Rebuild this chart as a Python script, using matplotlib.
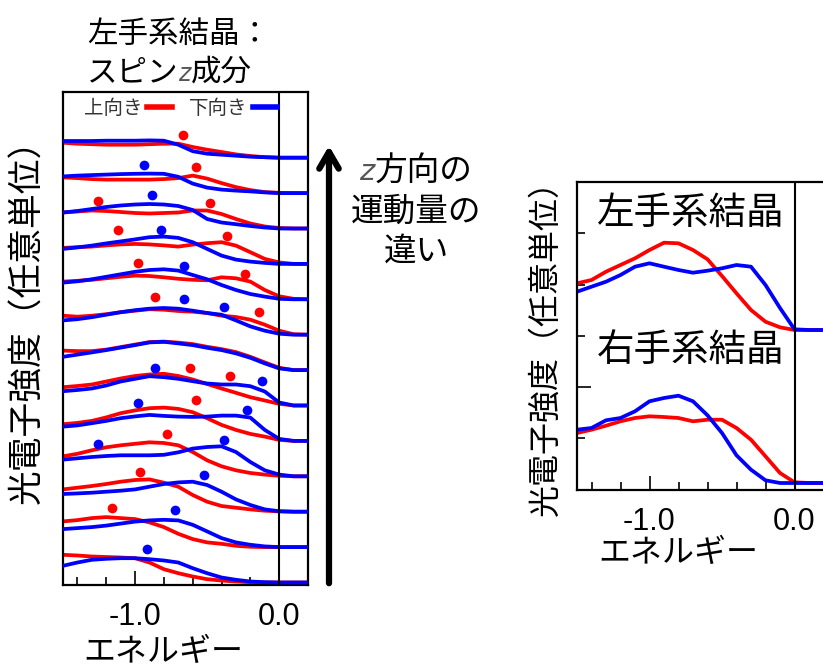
import matplotlib
matplotlib.use('Agg')
import matplotlib.pyplot as plt
from matplotlib.lines import Line2D
from matplotlib.patches import FancyArrowPatch
import numpy as np

plt.rcParams['font.family'] = ['Noto Sans CJK JP', 'DejaVu Sans']

# ---------------- data ----------------
energy = [-1.5, -1.4, -1.3, -1.2, -1.1, -1.0, -0.9, -0.8, -0.7, -0.6,
          -0.5, -0.4, -0.3, -0.2, -0.1, 0.0, 0.1, 0.2]

# left panel: 13 spectra, listed from top to bottom (arbitrary units)
spin_up = [
    [15, 14, 13.5, 13, 13, 13, 13.5, 14, 14, 10.7, 8, 5.7, 3.3, 1.7, 0.5, 0, 0, 0],
    [15.7, 15, 14, 13.5, 13.5, 13.5, 13.5, 14, 15, 17.5, 14.5, 10, 6, 3, 1, 0.3, 0, 0],
    [16, 17, 18, 17.5, 16.5, 15.5, 15, 15.5, 16, 18, 18, 14.5, 9.5, 5, 2, 0.5, 0, 0],
    [16, 16.7, 17.3, 18.5, 19.5, 20, 19.5, 18.5, 17.3, 19.3, 20.7, 21.7, 18.3, 11.7, 5, 1.5, 0, 0],
    [17.7, 18.5, 19.5, 21, 22.5, 23.7, 23.3, 22, 20.5, 19.5, 19, 22, 21, 17.7, 9.3, 3, 0.5, 0],
    [19, 18, 19, 20.5, 22.5, 24, 25.5, 25, 23.7, 23, 21.7, 19, 17.7, 15, 10, 4, 0.5, 0],
    [19.5, 19, 19, 20.5, 23, 25.5, 28, 28.5, 27.5, 26, 23.3, 21, 18, 13.3, 7.7, 2.3, 0, 0],
    [18.3, 19.5, 21, 24, 27, 29.5, 31, 31.7, 29.5, 26, 21.5, 17, 12.7, 8.3, 5, 1.7, 0, 0],
    [16.7, 18, 20, 23.5, 27.7, 30.5, 32.7, 33.3, 32, 28.7, 22.7, 16, 11, 7, 4.3, 1, 0, 0],
    [20, 22.5, 26, 29, 31, 32.5, 34, 33.3, 31, 24.3, 16, 10, 6, 3.3, 1.7, 0.5, 0, 0],
    [22.3, 24, 25.7, 27.7, 30, 31.7, 32.3, 29, 25, 16.7, 10, 5.7, 4, 2.3, 1, 0.3, 0, 0],
    [25.7, 27, 29, 30, 29, 28, 24.7, 20, 13.3, 8, 4.7, 3.3, 1.3, 0.3, 0, 0, 0, 0],
    [27.7, 27, 26, 25.5, 25, 24.3, 20, 13.3, 9.3, 6, 3.3, 2, 1, 0.3, 0, 0, 0, 0],
]
spin_down = [
    [16.7, 16.7, 16.7, 17, 17, 17, 17.3, 17, 13, 6.5, 4, 3, 2, 1, 0.5, 0, 0, 0],
    [16.7, 17.5, 18, 18.5, 19, 19.3, 19.5, 19.3, 16.3, 9.5, 5.5, 3.5, 2.5, 1.7, 0.7, 0, 0, 0],
    [16, 17.5, 19.5, 21.5, 23, 24, 24.5, 24, 22.5, 18.5, 9.5, 6, 4.3, 2.5, 1, 0, 0, 0],
    [15, 16.5, 18.3, 20.5, 22.5, 24.5, 26.7, 27.3, 26, 21.7, 15, 8.3, 4.3, 2.3, 1, 0, 0, 0],
    [16.7, 18, 20, 22.5, 25, 27.5, 29.3, 30, 28.7, 24.3, 20, 14.3, 9.3, 5.3, 2.7, 0.5, 0, 0],
    [14.3, 15.5, 17.5, 20, 22.5, 24.5, 26, 26.7, 26, 24, 21.7, 20, 14.3, 8.3, 4, 1, 0, 0],
    [13.3, 15.5, 17.7, 20, 22.5, 25, 27.7, 28.3, 26.7, 25, 22.3, 20, 16.7, 12.3, 6.7, 1.7, 0, 0],
    [14.3, 15.5, 17, 20, 24, 26.7, 29.3, 28.3, 26.7, 24.3, 22, 21, 21, 19.3, 14, 3, 0, 0],
    [14.3, 15.5, 17.7, 20, 22.7, 24.5, 26, 25, 24.3, 24, 24.3, 25.3, 25.3, 23.3, 11, 2, 0, 0],
    [16.7, 18, 19.3, 20.3, 21, 21, 21, 21.5, 24, 27.7, 29.3, 30, 24.3, 14.3, 6, 1.7, 0, 0],
    [17.7, 18.3, 19, 20, 21, 22.3, 25, 27.7, 29.3, 30, 26.7, 20, 12.3, 6.7, 2.3, 0.5, 0, 0],
    [18, 19, 20, 21.5, 23.5, 25.5, 26.7, 27.3, 26.7, 22.3, 15.7, 9, 4.7, 2.3, 0.7, 0, 0, 0],
    [16.7, 20, 22.7, 23.7, 24.3, 24.3, 23.3, 22, 20, 14.3, 9.3, 5, 2.7, 1, 0.3, 0, 0, 0],
]

# peak markers (curve index from top, energy, intensity)
up_peak_curve = [0, 1, 2, 2, 3, 3, 4, 4, 5, 5, 7, 7, 8, 9, 10, 11]
up_peak_energy = [-0.67, -0.58, -1.26, -0.48, -1.12, -0.36, -0.98, -0.24,
                  -0.86, -0.14, -0.62, -0.34, -0.58, -0.78, -0.965, -1.16]
up_peak_height = [22.7, 26, 27.3, 26, 34, 27.7, 36, 25.3,
                  37.3, 22.3, 37.7, 29.3, 41, 42.7, 40, 39]
down_peak_curve = [1, 2, 3, 4, 5, 5, 7, 7, 8, 8, 9, 9, 10, 11, 12]
down_peak_energy = [-0.94, -0.88, -0.82, -0.66, -0.66, -0.38, -0.86, -0.12,
                    -0.98, -0.22, -1.26, -0.38, -0.52, -0.72, -0.92]
down_peak_height = [27.7, 33.3, 34, 33.3, 35.7, 27.3, 37.7, 25,
                    37.7, 31, 32.7, 36.7, 36.7, 36.7, 33.3]

# right panel: integrated spectra
left_crystal_up = [46.7, 50, 58.3, 65, 71.7, 80, 87.3, 86.7, 80, 70.7,
                   54, 36.7, 20, 8.3, 2.7, 0, 0, 0]
left_crystal_down = [38.3, 43.3, 48.3, 55, 63.3, 66.7, 63.3, 60, 57.3, 59.3,
                     61.7, 65, 63.3, 45, 22, 0.7, 0, 0]
right_crystal_up = [50, 53.3, 57.3, 61.7, 65, 66.7, 66, 65, 61.7, 63.3,
                    63.3, 55, 43.3, 26.7, 10, 0.7, 0, 0]
right_crystal_down = [53.3, 55, 62.7, 65, 71.7, 81.7, 85, 87.3, 81.7, 67.7,
                      50, 27.7, 13.3, 2.7, 0, 0, 0, 0]

major_ticks = [-1.0, 0.0]
major_labels = ['-1.0', '0.0']
minor_ticks = [-1.4, -1.2, -0.8, -0.6, -0.4, -0.2]

# ---------------- figure ----------------
W, H = 823, 670
fig = plt.figure(figsize=(W / 100, H / 100), dpi=100)
RED, BLUE = '#ff0000', '#0000ff'
LW = 2.7
tick_font = dict(family='Liberation Sans', size=22)

axL = fig.add_axes([63 / W, 1 - 585 / H, 245 / W, 493 / H])
axR = fig.add_axes([577 / W, 1 - 490 / H, 246.5 / W, 308 / H])

# left panel
spacing, base = 35.4, 2.5
n = len(spin_up)
E = np.array(energy)
for i in range(n):
    off = base + (n - 1 - i) * spacing
    axL.plot(E, np.array(spin_up[i]) + off, color=RED, lw=LW, zorder=2,
             solid_joinstyle='round')
    axL.plot(E, np.array(spin_down[i]) + off, color=BLUE, lw=LW, zorder=3,
             solid_joinstyle='round')

up_off = [base + (n - 1 - c) * spacing for c in up_peak_curve]
down_off = [base + (n - 1 - c) * spacing for c in down_peak_curve]
axL.plot(up_peak_energy, np.array(up_peak_height) + np.array(up_off), 'o',
         color=RED, ms=7, mec='none', zorder=4)
axL.plot(down_peak_energy, np.array(down_peak_height) + np.array(down_off), 'o',
         color=BLUE, ms=7, mec='none', zorder=4)

axL.set_xlim(-1.5, 0.2)
axL.set_ylim(0, 493)
axL.axvline(0, color='black', lw=1.5, zorder=5)

# right panel
for vals, col, off in ((left_crystal_up, RED, 160), (left_crystal_down, BLUE, 160),
                       (right_crystal_up, RED, 7), (right_crystal_down, BLUE, 7)):
    axR.plot(E, np.array(vals) + off, color=col, lw=LW, solid_joinstyle='round')
axR.set_xlim(-1.5, 0.2)
axR.set_ylim(0, 308)
axR.axvline(0, color='black', lw=1.5)
axR.spines['right'].set_visible(False)

for ax in (axL, axR):
    for s in ax.spines.values():
        s.set_linewidth(1.6)
    ax.set_xticks(major_ticks)
    ax.set_xticklabels(major_labels, fontdict=tick_font)
    ax.set_xticks(minor_ticks, minor=True)
    ax.tick_params(axis='x', which='major', direction='in', length=10, width=1.2, pad=12)
    ax.tick_params(axis='x', which='minor', direction='in', length=6, width=1.2)
    ax.tick_params(top=False, right=False)
    ax.set_xlabel('エネルギー', fontsize=23)
    ax.xaxis.label.set_verticalalignment('center')

axL.set_yticks([])
axR.set_yticks([103])
axR.set_yticks([52, 154, 205, 257], minor=True)
axR.set_yticklabels([])
axR.tick_params(axis='y', which='major', direction='in', length=10, width=1.2)
axR.tick_params(axis='y', which='minor', direction='in', length=6, width=1.2)

axL.xaxis.set_label_coords(0.408, -0.136)
axR.xaxis.set_label_coords(0.41, -0.205)

axL.set_ylabel('光電子強度（任意単位）', fontsize=25)
axL.yaxis.label.set_verticalalignment('center')
axL.yaxis.set_label_coords(-0.143, 0.552)
axR.set_ylabel('光電子強度（任意単位）', fontsize=23)
axR.yaxis.label.set_verticalalignment('center')
axR.yaxis.set_label_coords(-0.126, 0.487)

# legend
handles = [Line2D([], [], color=RED, lw=4), Line2D([], [], color=BLUE, lw=4)]
leg = axL.legend(handles, ['上向き', '下向き'], ncol=2, markerfirst=False,
                 frameon=False, fontsize=14, handlelength=1.25, handletextpad=0.25,
                 columnspacing=0.9, loc='center left', bbox_to_anchor=(0.0857, 0.9675),
                 borderpad=0, borderaxespad=0)
for t in leg.get_texts():
    t.set_color('#333333')

# panel labels
axR.text(0.4625, 0.899, '左手系結晶', transform=axR.transAxes, ha='center',
         va='center', fontsize=27)
axR.text(0.4625, 0.4545, '右手系結晶', transform=axR.transAxes, ha='center',
         va='center', fontsize=27)

# mixed-font text lines (light italic z)
renderer = fig.canvas.get_renderer()


def segmented(x_px, base_px, segments, align='left'):
    items = []
    for s, kw in segments:
        t = fig.text(0, 0, s, ha='left', va='baseline', **kw)
        items.append((t, t.get_window_extent(renderer).width))
    total = sum(w for _, w in items)
    x = x_px - total / 2 if align == 'center' else x_px
    for t, w in items:
        t.set_position((x / W, 1 - base_px / H))
        x += w


ZSTYLE = dict(family='DejaVu Sans', style='italic', color='#555555')
segmented(87, 43, [('左手系結晶：', dict(fontsize=22))])
segmented(87, 81, [('スピン', dict(fontsize=22)), ('z', dict(fontsize=17, **ZSTYLE)),
                   ('成分', dict(fontsize=22))])

segmented(416, 180, [('z', dict(fontsize=21, **ZSTYLE)), ('方向の', dict(fontsize=23.5))],
          align='center')
segmented(416, 221, [('運動量の', dict(fontsize=23.5))], align='center')
segmented(416, 261, [('違い', dict(fontsize=23.5))], align='center')

# arrow
fig.add_artist(FancyArrowPatch(
    (329 / W, 1 - 586 / H), (329 / W, 1 - 143 / H), transform=fig.transFigure,
    arrowstyle='->,head_length=0.6,head_width=0.35', mutation_scale=20,
    lw=4.5, color='black'))

fig.savefig('out.png', dpi=100)
